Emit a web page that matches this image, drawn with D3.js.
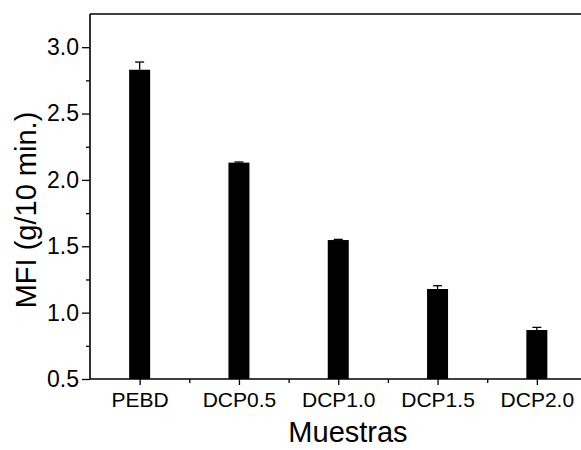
<!DOCTYPE html>
<html>
<head>
<meta charset="utf-8">
<script src="https://cdn.jsdelivr.net/npm/d3@7"></script>
<style>
  body { margin: 0; background: #fff; }
  svg { display: block; font-family: "Liberation Sans", Arial, sans-serif; }
</style>
</head>
<body>
<div class="container"></div>
<script>
(function() {
  // Chart data
  var categories = ['PEBD', 'DCP0.5', 'DCP1.0', 'DCP1.5', 'DCP2.0'];
  var mfiValues = [2.83, 2.13, 1.547, 1.178, 0.869];
  var mfiErrors = [0.058, 0.005, 0.005, 0.025, 0.02];
  var yTicks = [0.5, 1.0, 1.5, 2.0, 2.5, 3.0];
  var yMinorTicks = [0.75, 1.25, 1.75, 2.25, 2.75];
  var xMinorTicks = [1.5, 2.5, 3.5, 4.5];

  var width = 581, height = 450;
  var left = 90, top = 14, bottom = 379;

  var svg = d3.select('div.container').append('svg')
    .attr('width', width).attr('height', height);

  // x: category index on a linear scale (0.5 .. 5.5)
  var x = d3.scaleLinear().domain([0.5, 5.5]).range([left, left + 5 * 99.3]);
  var y = d3.scaleLinear().domain([0.5, 3.25]).range([bottom, top]);

  var barW = 21, capW = 9;

  // bars
  svg.selectAll('rect.bar').data(mfiValues).enter().append('rect')
    .attr('class', 'bar')
    .attr('x', function(d, i) { return x(i + 1) - barW / 2; })
    .attr('y', function(d) { return y(d); })
    .attr('width', barW)
    .attr('height', function(d) { return y(0.5) - y(d); })
    .attr('fill', '#000');

  // error bars (upper only)
  var err = svg.append('g').attr('stroke', '#000').attr('stroke-width', 1.3);
  mfiValues.forEach(function(v, i) {
    var cx = x(i + 1);
    err.append('line').attr('x1', cx).attr('x2', cx)
      .attr('y1', y(v)).attr('y2', y(v + mfiErrors[i]));
    err.append('line').attr('x1', cx - capW / 2).attr('x2', cx + capW / 2)
      .attr('y1', y(v + mfiErrors[i])).attr('y2', y(v + mfiErrors[i]));
  });

  // y axis
  var yAxis = svg.append('g').attr('transform', 'translate(' + left + ',0)')
    .call(d3.axisLeft(y).tickValues(yTicks).tickFormat(d3.format('.1f')).tickSize(8).tickPadding(3));
  svg.append('g').attr('transform', 'translate(' + left + ',0)')
    .call(d3.axisLeft(y).tickValues(yMinorTicks).tickFormat('').tickSize(4))
    .select('.domain').remove();

  // x axis
  var xAxis = svg.append('g').attr('transform', 'translate(0,' + bottom + ')')
    .call(d3.axisBottom(x).tickValues([1, 2, 3, 4, 5])
      .tickFormat(function(d) { return categories[d - 1]; }).tickSize(6).tickPadding(7));
  svg.append('g').attr('transform', 'translate(0,' + bottom + ')')
    .call(d3.axisBottom(x).tickValues(xMinorTicks).tickFormat('').tickSize(4))
    .select('.domain').remove();

  svg.selectAll('.domain').attr('d', null);
  svg.selectAll('.tick line').attr('stroke', '#000').attr('stroke-width', 1.3);
  yAxis.selectAll('text').attr('font-size', 23).attr('fill', '#000')
    .attr('font-family', '"Liberation Sans", Arial, sans-serif');
  xAxis.selectAll('text').attr('font-size', 21).attr('fill', '#000')
    .attr('font-family', '"Liberation Sans", Arial, sans-serif');

  // frame lines: left, bottom, top
  var frame = svg.append('g').attr('stroke', '#000').attr('stroke-width', 1.6);
  frame.append('line').attr('x1', left).attr('x2', left).attr('y1', top).attr('y2', bottom);
  frame.append('line').attr('x1', left).attr('x2', width).attr('y1', bottom).attr('y2', bottom);
  frame.append('line').attr('x1', left).attr('x2', width).attr('y1', top).attr('y2', top);

  // axis titles
  svg.append('text').attr('x', 348).attr('y', 442)
    .attr('text-anchor', 'middle').attr('font-size', 29).text('Muestras');
  svg.append('text')
    .attr('transform', 'translate(36,' + 210 + ') rotate(-90)')
    .attr('text-anchor', 'middle').attr('font-size', 29).text('MFI (g/10 min.)');
})();
</script>
</body>
</html>
